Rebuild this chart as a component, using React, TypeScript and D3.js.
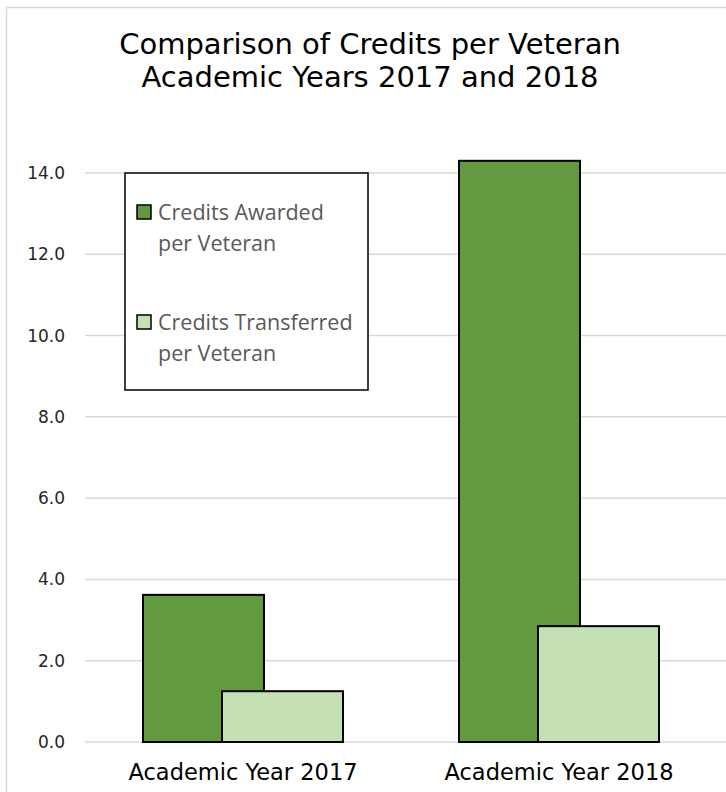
import React from "react";
import * as d3 from "d3";

const categories = ["Academic Year 2017", "Academic Year 2018"];
const seriesNames = ["Credits Awarded per Veteran", "Credits Transferred per Veteran"];
const awarded = [3.62, 14.3];
const transferred = [1.25, 2.85];
const yTicks = [0, 2, 4, 6, 8, 10, 12, 14];
const legendLines = [["Credits Awarded", "per Veteran"], ["Credits Transferred", "per Veteran"]];
const colors = ["#629A3F", "#C5E0B4"];

export default function App() {
  const W = 726, H = 792;
  const left = 85, right = 717, top = 173, bottom = 742;
  const y = d3.scaleLinear().domain([0, 14]).range([bottom, top]);
  const x = d3.scaleBand().domain(categories).range([left, right]);
  const barW = 121;
  const offset = 79; // distance between bar starts (overlap)
  const series = [awarded, transferred];
  const tickFont = "'DejaVu Sans', Verdana, sans-serif";
  return (
    <svg width={W} height={H} style={{ position: "absolute", left: 0, top: 0, background: "#fff" }}>
      <rect x={6.5} y={7.5} width={760} height={820} fill="#fff" stroke="#d9d9d9" strokeWidth={1.5} />
      <text x={370} y={54} textAnchor="middle" fontFamily={tickFont} fontSize={29} fill="#000">
        Comparison of Credits per Veteran
      </text>
      <text x={370} y={87} textAnchor="middle" fontFamily={tickFont} fontSize={29} fill="#000">
        Academic Years 2017 and 2018
      </text>
      {yTicks.map((t) => (
        <g key={t}>
          <line x1={left} x2={726} y1={y(t)} y2={y(t)} stroke="#d9d9d9" strokeWidth={1.5} />
          <text x={65} y={y(t)} dy="0.35em" textAnchor="end" fontFamily={tickFont} fontSize={17} fill="#262626">
            {d3.format(".1f")(t)}
          </text>
        </g>
      ))}
      {categories.map((c, i) => {
        const cx = (x(c) as number) + x.bandwidth() / 2;
        const start = cx - (barW + offset) / 2;
        return (
          <g key={c}>
            {series.map((s, j) => (
              <rect key={j} x={start + j * offset} y={y(s[i])} width={barW} height={y(0) - y(s[i])}
                fill={colors[j]} stroke="#000" strokeWidth={2} />
            ))}
            <text x={cx} y={780} textAnchor="middle" fontFamily={tickFont} fontSize={22.5} fill="#000">
              {c}
            </text>
          </g>
        );
      })}
      <rect x={125} y={173} width={243} height={217} fill="#fff" stroke="#000" strokeWidth={1.5} />
      {seriesNames.map((n, j) => (
        <g key={n}>
          <rect x={137} y={205 + j * 110} width={14} height={14} fill={colors[j]} stroke="#000" strokeWidth={1.5} />
          {legendLines[j].map((l, k) => (
            <text key={k} x={158} y={212 + j * 110 + k * 31} dy="0.35em" fontFamily="'Open Sans', sans-serif" fontSize={21.5} fill="#595959">
              {l}
            </text>
          ))}
        </g>
      ))}
    </svg>
  );
}
